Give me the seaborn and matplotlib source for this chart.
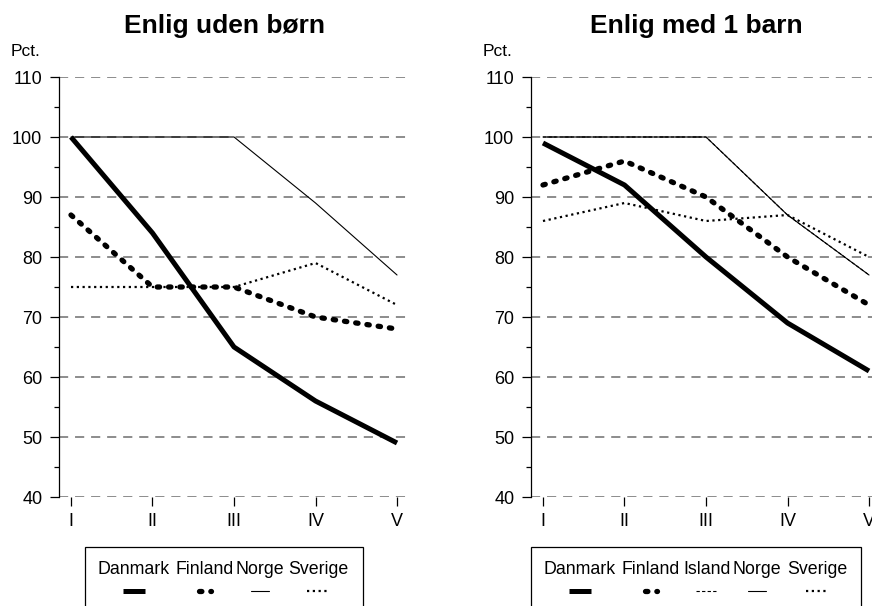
import matplotlib
matplotlib.use("Agg")
import matplotlib.pyplot as plt
import seaborn as sns
import numpy as np
from matplotlib.lines import Line2D
from matplotlib.patches import Rectangle

sns.set_theme(style="white")
plt.rcParams['font.family'] = ['Liberation Sans', 'DejaVu Sans']
plt.rcParams['text.color'] = 'black'
plt.rcParams['axes.labelcolor'] = 'black'
plt.rcParams['xtick.color'] = 'black'
plt.rcParams['ytick.color'] = 'black'

categories = ["I", "II", "III", "IV", "V"]

left_title = "Enlig uden børn"
left_danmark = [100, 84, 65, 56, 49]
left_finland = [87, 75, 75, 70, 68]
left_norge = [100, 100, 100, 89, 77]
left_sverige = [75, 75, 75, 79, 72]

right_title = "Enlig med 1 barn"
right_danmark = [99, 92, 80, 69, 61]
right_finland = [92, 96, 90, 80, 72]
right_island = [100, 100, 100, 87, 77]
right_norge = [100, 100, 100, 87, 77]
right_sverige = [86, 89, 86, 87, 80]

yticks = [40, 50, 60, 70, 80, 90, 100, 110]
ylabel = "Pct."

styles = {
    "Danmark": dict(lw=3.6, ls="-", solid_capstyle="butt"),
    "Finland": dict(lw=3.8, ls=(0, (0.45, 1.7)), dash_capstyle="round"),
    "Island": dict(lw=0.8, ls=(0, (3.0, 2.0)), dash_capstyle="butt"),
    "Norge": dict(lw=0.8, ls="-"),
    "Sverige": dict(lw=1.6, ls=(0, (1.0, 1.6)), dash_capstyle="butt"),
}

W, H = 872, 606
fig = plt.figure(figsize=(W / 100, H / 100), dpi=100)

def px_ax(x0, x1, ytop, ybot):
    return [x0 / W, 1 - ybot / H, (x1 - x0) / W, (ybot - ytop) / H]

axL = fig.add_axes(px_ax(59, 406, 77, 497))
axR = fig.add_axes(px_ax(531, 878, 77, 497))

def draw(ax, series, title, title_cx):
    for name, vals in series:
        sns.lineplot(x=categories, y=vals, ax=ax, color="black", sort=False,
                     **styles[name])
    ax.set_ylim(40, 110)
    ax.set_xlim(-0.147, 4.11)
    ax.set_yticks(yticks)
    ax.set_yticks(np.arange(45, 110, 10), minor=True)
    ax.set_xticks(range(len(categories)))
    ax.set_xticklabels(categories)
    ax.grid(True, axis="y", color="#6e6e6e", ls=(0, (6, 4.5)), lw=1.1)
    ax.set_axisbelow(True)
    for s in ["top", "right", "bottom"]:
        ax.spines[s].set_visible(False)
    ax.spines["left"].set_color("black")
    ax.spines["left"].set_linewidth(0.9)
    ax.tick_params(axis="y", which="major", direction="out", length=6.5, width=0.9,
                   color="black", labelsize=13, pad=5.5, left=True, labelcolor="black")
    ax.tick_params(axis="y", which="minor", direction="out", length=3.5, width=0.9,
                   color="black", left=True)
    ax.tick_params(axis="x", which="major", direction="out", length=6.5, width=0.9,
                   color="black", labelsize=13, pad=5, bottom=True, labelcolor="black")
    ax.set_xlabel("")
    ax.set_ylabel("")
    ax.annotate(ylabel, xy=(0, 1), xycoords="axes fraction", xytext=(-13, 18),
                textcoords="offset points", ha="right", va="center", fontsize=12.5,
                color="black")
    fig.text(title_cx / W, 1 - 33.5 / H, title, ha="center", va="baseline",
             fontsize=19, fontweight="bold", color="black")

draw(axL, [("Danmark", left_danmark), ("Finland", left_finland),
           ("Norge", left_norge), ("Sverige", left_sverige)], left_title, 224)
draw(axR, [("Island", right_island), ("Danmark", right_danmark),
           ("Finland", right_finland), ("Norge", right_norge),
           ("Sverige", right_sverige)], right_title, 696)

def legend(x0, x1, names, centers):
    fig.add_artist(Rectangle((x0 / W, -0.05), (x1 - x0) / W, 1 - 547 / H + 0.05,
                             transform=fig.transFigure, fill=False, ec="black", lw=0.9))
    for name, cx in zip(names, centers):
        fig.text(cx / W, 1 - 570 / H, name, ha="center", va="center", fontsize=12.8,
                 color="black")
        st = dict(styles[name])
        half = 11 if name != "Finland" else 6
        if name == "Norge":
            half = 9
        fig.add_artist(Line2D([(cx - half) / W, (cx + half) / W], [1 - 591 / H] * 2,
                              transform=fig.transFigure, color="black", **st))

legend(85, 363, ["Danmark", "Finland", "Norge", "Sverige"], [134, 205, 260, 318])
legend(531, 861, ["Danmark", "Finland", "Island", "Norge", "Sverige"],
       [580, 651, 707, 757, 817])

fig.savefig("out.png", dpi=100)
